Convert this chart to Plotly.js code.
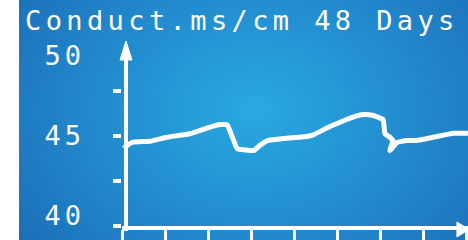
<!DOCTYPE html>
<html>
<head>
<meta charset="utf-8">
<script src="https://cdn.plot.ly/plotly-3.0.1.min.js"></script>
<style>
  html, body { margin: 0; padding: 0; background: #ffffff; overflow: hidden; }
  #bg { position: absolute; left: 19px; top: 0; width: 449px; height: 240px;
        background: radial-gradient(ellipse 300px 230px at 236px 110px, #28a9e1 0%, #2289cc 55%, #1c6db6 100%); }
  #chart { position: absolute; left: 0; top: 0; width: 468px; height: 240px; }
  .gtitle { letter-spacing: 4.4px; }
  .ytick text { letter-spacing: 4px; }
</style>
</head>
<body>
<div id="bg"></div>
<div id="chart"></div>
<script>
// Data (days vs conductivity in mS/cm)
const days = [0.28, 0.70, 1.53, 3.89, 6.22, 9.46, 12.24, 13.39, 14.65, 16.04, 18.36, 19.19, 20.35,
              25.69, 26.61, 28.93, 31.25, 32.64, 33.80, 34.95, 36.34, 36.58, 37.27, 37.69, 37.27,
              38.25, 39.60, 40.99, 43.30, 46.08, 48.12];
const conductivity = [44.19, 44.38, 44.58, 44.64, 44.89, 45.11, 45.52, 45.67, 45.67, 44.17, 44.06, 44.38, 44.69,
                      44.94, 45.04, 45.56, 46.00, 46.23, 46.31, 46.25, 46.00, 45.11, 44.89, 44.69, 44.06,
                      44.56, 44.69, 44.69, 44.89, 45.14, 45.14];
const yLabelVals = [40, 45, 50];
const yLabelText = ['40', '45', '50'];
const yDashVals = [40, 42.5, 45, 47.5];
const xTickVals = [0, 6, 12, 18, 24, 30, 36, 42, 48];
const titleText = 'Conduct.ms/cm 48 Days';

const traces = [
  { x: days, y: conductivity, type: 'scatter', mode: 'lines',
    line: { color: '#ffffff', width: 5, shape: 'spline', smoothing: 0.25 },
    hoverinfo: 'skip', showlegend: false },
  { x: [], y: [], yaxis: 'y2', type: 'scatter', mode: 'lines', showlegend: false }
];

const layout = {
  width: 468, height: 240,
  margin: { l: 122, r: 0, t: 0, b: 14 },
  paper_bgcolor: 'rgba(0,0,0,0)', plot_bgcolor: 'rgba(0,0,0,0)',
  showlegend: false,
  title: { text: titleText, xref: 'container', x: 25/468, xanchor: 'left',
           yref: 'container', y: 0.915, yanchor: 'middle',
           font: { family: 'DejaVu Sans Mono', size: 27, color: '#ffffff' } },
  xaxis: { range: [0, 48.14], tickvals: xTickVals, showticklabels: false,
           ticks: 'outside', ticklen: 12, tickwidth: 3, tickcolor: '#ffffff',
           showline: true, linewidth: 4, linecolor: '#ffffff',
           showgrid: false, zeroline: false, fixedrange: true },
  yaxis: { range: [39.34, 53.47], tickvals: yLabelVals, ticktext: yLabelText,
           ticks: '', ticklabelstandoff: 36,
           tickfont: { family: 'DejaVu Sans Mono', size: 27, color: '#ffffff' },
           showline: false, showgrid: false, zeroline: false, fixedrange: true },
  yaxis2: { range: [39.99, 52.55], overlaying: 'y', side: 'left', anchor: 'x',
            tickvals: yDashVals, showticklabels: false,
            ticks: 'outside', ticklen: 8, tickwidth: 4, tickcolor: '#ffffff',
            showline: false, showgrid: false, zeroline: false, fixedrange: true },
  shapes: [
    // vertical axis line with arrow head
    { type: 'line', xref: 'paper', yref: 'paper', x0: 0.01156, x1: 0.01156, y0: -0.022, y1: 0.75,
      line: { color: '#ffffff', width: 4 } },
    { type: 'path', xref: 'paper', yref: 'paper',
      path: 'M -0.00578,0.7345 L 0.0289,0.7345 L 0.01156,0.8186 Z',
      fillcolor: '#ffffff', line: { color: '#ffffff', width: 1 } },
    // horizontal axis arrow head
    { type: 'path', xref: 'paper', yref: 'paper',
      path: 'M 0.968,0.0177 L 0.968,-0.0487 L 1.003,-0.0155 Z',
      fillcolor: '#ffffff', line: { color: '#ffffff', width: 1 } }
  ]
};

Plotly.newPlot('chart', traces, layout, { displayModeBar: false, staticPlot: true });
</script>
</body>
</html>
